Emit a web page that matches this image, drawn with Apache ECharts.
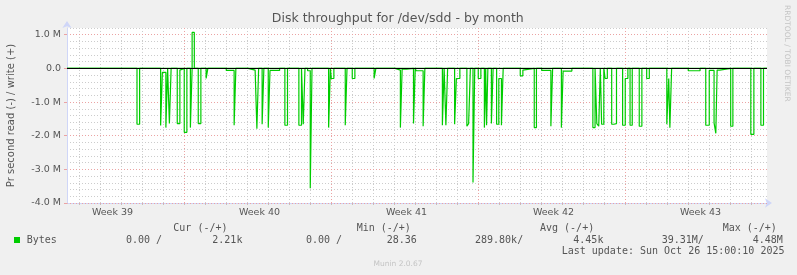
<!DOCTYPE html>
<html>
<head>
<meta charset="utf-8">
<script src="https://cdn.jsdelivr.net/npm/echarts@6.0.0/dist/echarts.min.js"></script>
<style>
html,body{margin:0;padding:0;background:#f0f0f0;}
#chart{width:797px;height:275px;}
</style>
</head>
<body>
<div id="chart"></div>
<script>
// Time axis: hours relative to Monday 29 Sep 2025 00:00 (start of week 40)
var timeMin = -134, timeMax = 666;
var weekStarts = [0, 168, 336, 504];
var weekLabels = ['Week 39', 'Week 40', 'Week 41', 'Week 42', 'Week 43'];
var weekLabelAt = [-82, 86, 254, 422, 590];
var yMajorTicks = [-4, -3, -2, -1, 0, 1];

// Read throughput (negative, in M bytes/s): [hour, value] step points (value holds until next point)
var readSteps = [
  [-134,0],
  [-54,-1.66],[-51,0],
  [-27,-1.70],[-25,-0.12],[-21,-1.76],[-19,0],
  [-17,-1.64],[-15,0],
  [-8,-1.64],[-5,-0.05],[-3,0],
  [0,-1.90],[3,0],
  [7,-1.76],[9,0],
  [16,-1.64],[19,0],
  [25,-0.30],[27,0],
  [48,-0.06],[57,-1.69],[59,0],
  [73,-0.05],[81,0],
  [83,-1.79],[85,0],
  [89,-1.66],[91,0],
  [96,-1.76],[98,-0.06],[109,0],
  [115,-1.69],[118,0],
  [131,-1.69],[134,0],
  [136,-1.66],[138,0],
  [141,-0.07],[144,-3.56],[146,0],
  [165,-1.76],[167,0],[168,-0.30],[171,0],
  [184,-1.69],[186,0],
  [192,-0.30],[195,0],
  [217,-0.30],[219,0],
  [241,-0.05],[247,-1.76],[249,-0.02],[254,0],
  [262,-1.64],[264,0],[265,-0.07],[273,-1.72],[275,0],
  [295,-1.69],[297,0],
  [299,-1.69],[301,0],
  [309,-1.66],[311,-0.30],[315,0],
  [323,-1.72],[325,-1.64],[327,0],
  [330,-3.39],[332,0],
  [336,-0.30],[339,0],
  [343,-1.76],[344.5,0],[345.5,-1.69],[347,0],
  [351,-1.64],[353,0],
  [357,-1.66],[359.5,-0.30],[362.5,-1.69],[364.5,0],
  [384,-0.22],[387,-0.05],[389,0],
  [400,-1.76],[402.5,0],
  [408.5,-0.06],[419,-1.72],[421,0],
  [431,-1.76],[433,-0.08],[443,0],
  [467,-1.76],[469.5,0],
  [471.5,-1.64],[473.7,-1.72],[475.5,0],
  [477,-1.66],[479.5,0],[481,-0.30],[483.5,0],
  [488.5,-1.66],[491,-1.64],[494,0],
  [501,-1.69],[504,-0.30],[507,0],
  [509.5,-1.69],[512,0],
  [520,-1.72],[523,0],
  [528.5,-0.30],[531.5,0],
  [551.5,-1.66],[553.7,-0.30],[555,-1.76],[557,0],
  [576,-0.07],[589.5,0],
  [596,-1.69],[600,-0.06],[605.5,-1.62],[607.5,-1.93],[609,-0.05],[612,0],
  [624.5,-1.72],[627,0],
  [647.5,-1.96],[651,0],
  [659,-1.69],[662,0],
  [666,0]
];

// Write throughput (positive, M bytes/s)
var writeSteps = [
  [-134,0],[9,1.07],[11.5,0],[40,0.03],[42,0],[666,0]
];

// Legend / statistics texts
var legendName = 'Bytes';
var statHeaders = ['Cur (-/+)', 'Min (-/+)', 'Avg (-/+)', 'Max (-/+)'];
var statValues = ['0.00 /', '2.21k', '0.00 /', '28.36', '289.80k/', '4.45k', '39.31M/', '4.48M'];
var lastUpdate = 'Last update: Sun Oct 26 15:00:10 2025';

var dayTicks = [];
for (var d = -120; d <= timeMax; d += 24) dayTicks.push(d);

var TXT = '#555555';
var SANS = 'DejaVu Sans';
var MONO = '"DejaVu Sans Mono"';
var GRID_MINOR = '#cccccc';
var GRID_MAJOR = '#eba3a3';
var AXIS = '#CFD6F8';

var chart = echarts.init(document.getElementById('chart'), null, {renderer: 'canvas'});

var headerX = [173.3, 356.7, 540, 722.7];
var valueX = [126, 212.3, 306, 386.7, 475, 573.3, 661.7, 752.7];

var graphics = [
  {type:'text', x:397.8, y:19, style:{text:'Disk throughput for /dev/sdd - by month', font:'12.5px "DejaVu Sans"', fill:TXT, align:'center', verticalAlign:'middle'}},
  {type:'text', x:11, y:115.5, rotation:Math.PI/2, style:{text:'Pr second read (-) / write (+)', font:'10px "DejaVu Sans"', fill:TXT, align:'center', verticalAlign:'middle'}},
  {type:'text', x:786.5, y:5, rotation:-Math.PI/2, style:{text:'RRDTOOL / TOBI OETIKER', font:'7.5px "DejaVu Sans"', fill:'#c4c4c4', align:'left', verticalAlign:'middle'}},
  {type:'rect', shape:{x:14, y:237, width:6, height:6}, style:{fill:'#00cc00'}},
  {type:'text', x:26.7, y:240, style:{text:legendName, font:'10px ' + MONO, fill:TXT, align:'left', verticalAlign:'middle'}},
  {type:'text', x:561.7, y:251.8, style:{text:lastUpdate, font:'10px ' + MONO, fill:TXT, align:'left', verticalAlign:'middle'}},
  {type:'text', x:398, y:264, style:{text:'Munin 2.0.67', font:'7.5px "DejaVu Sans"', fill:'#c4c4c4', align:'center', verticalAlign:'middle'}}
];
statHeaders.forEach(function(h, i){
  graphics.push({type:'text', x:headerX[i], y:228, style:{text:h, font:'10px ' + MONO, fill:TXT, align:'left', verticalAlign:'middle'}});
});
statValues.forEach(function(v, i){
  graphics.push({type:'text', x:valueX[i], y:240, style:{text:v, font:'10px ' + MONO, fill:TXT, align:'left', verticalAlign:'middle'}});
});

var option = {
  animation: false,
  backgroundColor: '#f0f0f0',
  grid: {left:67, right:30, top:28, bottom:72, show:true, backgroundColor:'#ffffff', borderWidth:0, containLabel:false},
  xAxis: [
    {
      type:'value', min:timeMin, max:timeMax, position:'bottom',
      axisLine:{show:true, onZero:false, lineStyle:{color:AXIS, width:1}, symbol:['none','arrow'], symbolSize:[7,7], symbolOffset:[0,5]},
      axisTick:{show:true, customValues:dayTicks, length:2, lineStyle:{color:'#c0c0c0'}},
      splitLine:{show:true, lineStyle:{color:GRID_MINOR, width:1, type:[1,2]}},
      axisLabel:{show:true, customValues:weekLabelAt, margin:5, color:TXT, fontSize:9.5, fontFamily:SANS,
        formatter:function(v){ var i = weekLabelAt.indexOf(v); return i >= 0 ? weekLabels[i] : ''; }}
    },
    {
      type:'value', min:timeMin, max:timeMax, position:'top', z:1,
      axisLine:{show:false}, axisTick:{show:false, customValues:weekStarts}, axisLabel:{show:false},
      splitLine:{show:true, lineStyle:{color:GRID_MAJOR, width:1, type:[1,2]}}
    }
  ],
  yAxis: [
    {
      type:'value', min:-4, max:1.2, position:'left', z:1,
      axisLine:{show:true, onZero:false, lineStyle:{color:AXIS, width:1}, symbol:['none','arrow'], symbolSize:[7,7], symbolOffset:[0,7]},
      axisTick:{show:true, customValues:yMajorTicks, length:3, lineStyle:{color:GRID_MAJOR}},
      axisLabel:{customValues:yMajorTicks, margin:6, color:TXT, fontSize:9.5, fontFamily:SANS,
        formatter:function(v){ return v === 0 ? '0.0' : v.toFixed(1) + ' M'; }},
      splitLine:{show:true, lineStyle:{color:GRID_MAJOR, width:1, type:[1,2]}}
    },
    {
      type:'value', min:-4, max:1.2, interval:0.2, position:'right',
      axisLine:{show:false}, axisTick:{show:false}, axisLabel:{show:false},
      splitLine:{show:true, lineStyle:{color:GRID_MINOR, width:1, type:[1,2]}}
    }
  ],
  graphic: graphics,
  series: [
    {type:'line', name:'read', xAxisIndex:0, yAxisIndex:0, step:'end', symbol:'none', z:3,
     lineStyle:{color:'#00cc00', width:1.2}, data:readSteps},
    {type:'line', name:'write', xAxisIndex:0, yAxisIndex:0, step:'end', symbol:'none', z:3,
     lineStyle:{color:'#00cc00', width:1.2}, data:writeSteps},
    {type:'line', name:'zero', xAxisIndex:0, yAxisIndex:0, data:[], z:5,
     markLine:{silent:true, symbol:'none', label:{show:false}, animation:false,
       lineStyle:{color:'#000000', width:1, type:'solid'}, data:[{yAxis:0}]}}
  ]
};
chart.setOption(option);
</script>
</body>
</html>
